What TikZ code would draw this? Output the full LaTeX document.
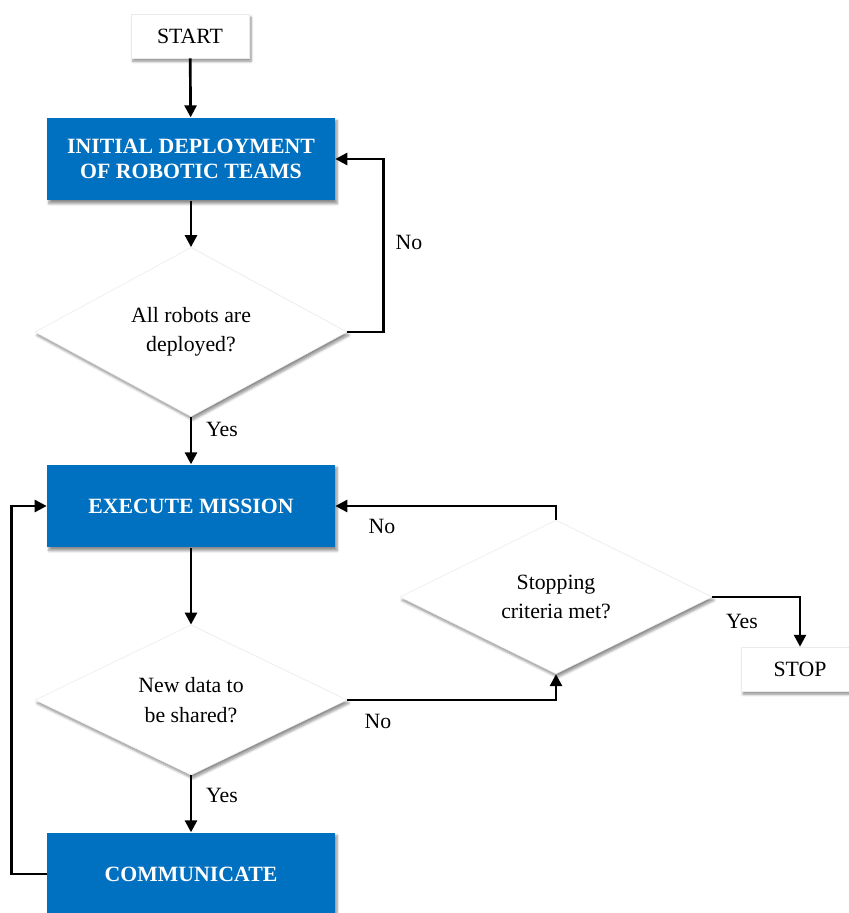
\documentclass[tikz,border=0pt]{standalone}
\usepackage{fontspec}
\setmainfont{Liberation Serif}
\usepackage{xcolor}
\usetikzlibrary{shapes.geometric,arrows.meta,shadows.blur}

\definecolor{boxblue}{HTML}{0070C0}

\tikzset{
  myshadow/.style={blur shadow={shadow xshift=0.05cm, shadow yshift=-0.08cm, shadow blur steps=6, shadow opacity=45}},
  bluebox/.style={rectangle, fill=boxblue, text=white, align=center,
    font=\bfseries\fontsize{15.5}{17.5}\selectfont,
    minimum width=7.2cm, minimum height=2.07cm, myshadow},
  endbox/.style={rectangle, fill=white, draw=black!8, line width=0.4pt, align=center,
    font=\fontsize{15.5}{18}\selectfont,
    minimum width=2.95cm, minimum height=1.1cm, myshadow},
  decision/.style={diamond, fill=white, draw=black!8, line width=0.4pt, align=center, inner sep=0pt,
    font=\fontsize{15.5}{21}\selectfont,
    minimum width=7.8cm, minimum height=3.67cm, myshadow},
  answer/.style={font=\fontsize{15.5}{18}\selectfont},
  flow/.style={line width=1.9pt, -{Triangle[length=8.5pt,width=8.5pt]}}
}

\begin{document}
\begin{tikzpicture}[x=0.025cm, y=0.025cm]
    \useasboundingbox (0,0) rectangle (848,-913);

    % Draw the start and end boxes
    \node[endbox] (start) at (190,-36) {START};
    \node[endbox] (stop) at (800,-669) {STOP};

    % Draw the process boxes
    \node[bluebox] (init) at (191,-159) {INITIAL DEPLOYMENT\\OF ROBOTIC TEAMS};
    \node[bluebox] (exec) at (191,-506) {EXECUTE MISSION};
    \node[bluebox] (comm) at (191,-874) {COMMUNICATE};

    % Draw the decisions
    \node[decision] (deployed) at (191,-332) {All robots are\\deployed?};
    \node[decision] (share) at (191,-700) {New data to\\be shared?};
    \node[decision] (criteria) at (556,-597) {Stopping\\criteria met?};

    % Draw the connectors
    \draw[flow] (start) -- (init);
    \draw[flow] (init) -- (deployed);
    \draw[flow] (deployed.east) -- ++(36,0) |- (init.east);
    \draw[flow] (deployed) -- (exec);
    \draw[flow] (exec) -- (share);
    \draw[flow] (share) -- (comm);
    \draw[flow] (comm.west) -- ++(-35,0) |- (exec.west);
    \draw[flow] (share.east) -| (criteria.south);
    \draw[flow] (criteria.north) |- (exec.east);
    \draw[flow] (criteria.east) -| (stop.north);

    % Add labels
    \node[answer] (no1) at (409,-242) {No};
    \node[answer] (yes1) at (222,-429) {Yes};
    \node[answer] (no2) at (382,-526) {No};
    \node[answer] (no3) at (378,-721) {No};
    \node[answer] (yes2) at (222,-795) {Yes};
    \node[answer] (yes3) at (742,-621) {Yes};
\end{tikzpicture}
\end{document}
